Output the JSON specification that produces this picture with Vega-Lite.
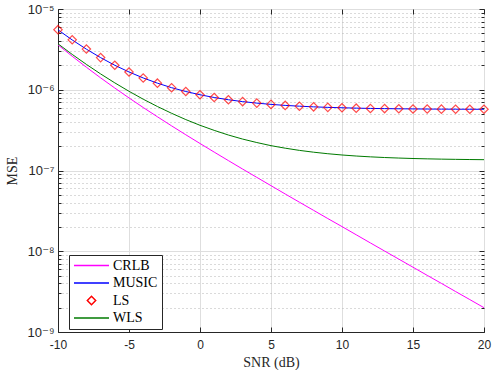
{
  "$schema": "https://vega.github.io/schema/vega-lite/v6.json",
  "width": 426,
  "height": 323,
  "autosize": {"type": "none"},
  "padding": {"left": 58, "top": 9, "right": 8, "bottom": 38},
  "background": "white",
  "config": {
    "view": {"stroke": "#262626", "strokeWidth": 1},
    "axis": {
      "domainColor": "#262626",
      "tickColor": "#262626",
      "labelColor": "#262626",
      "titleColor": "#262626",
      "labelFont": "Liberation Sans, DejaVu Sans",
      "labelFontSize": 12,
      "titleFont": "Liberation Serif, Times New Roman, serif",
      "titleFontSize": 14,
      "titleFontWeight": "normal"
    }
  },
  "datasets": {
    "curves": [
      {"snr": -10, "series": "CRLB", "mse": 3.6e-6}, {"snr": -9, "series": "CRLB", "mse": 2.6e-6}, {"snr": -8, "series": "CRLB", "mse": 1.9e-6}, {"snr": -7, "series": "CRLB", "mse": 1.404e-6}, {"snr": -6, "series": "CRLB", "mse": 1.05e-6}, {"snr": -5, "series": "CRLB", "mse": 7.92e-7}, {"snr": -4, "series": "CRLB", "mse": 6.03e-7}, {"snr": -3, "series": "CRLB", "mse": 4.63e-7}, {"snr": -2, "series": "CRLB", "mse": 3.57e-7}, {"snr": -1, "series": "CRLB", "mse": 2.77e-7}, {"snr": 0, "series": "CRLB", "mse": 2.16e-7}, {"snr": 1, "series": "CRLB", "mse": 1.69e-7}, {"snr": 2, "series": "CRLB", "mse": 1.326e-7}, {"snr": 3, "series": "CRLB", "mse": 1.042e-7}, {"snr": 4, "series": "CRLB", "mse": 8.22e-8}, {"snr": 5, "series": "CRLB", "mse": 6.49e-8}, {"snr": 6, "series": "CRLB", "mse": 5.12e-8}, {"snr": 7, "series": "CRLB", "mse": 4.05e-8}, {"snr": 8, "series": "CRLB", "mse": 3.21e-8}, {"snr": 9, "series": "CRLB", "mse": 2.54e-8}, {"snr": 10, "series": "CRLB", "mse": 2.02e-8}, {"snr": 11, "series": "CRLB", "mse": 1.6e-8}, {"snr": 12, "series": "CRLB", "mse": 1.268e-8}, {"snr": 13, "series": "CRLB", "mse": 1.006e-8}, {"snr": 14, "series": "CRLB", "mse": 7.99e-9}, {"snr": 15, "series": "CRLB", "mse": 6.34e-9}, {"snr": 16, "series": "CRLB", "mse": 5.03e-9}, {"snr": 17, "series": "CRLB", "mse": 4.0e-9}, {"snr": 18, "series": "CRLB", "mse": 3.17e-9}, {"snr": 19, "series": "CRLB", "mse": 2.52e-9}, {"snr": 20, "series": "CRLB", "mse": 2.0e-9},
      {"snr": -10, "series": "MUSIC", "mse": 5.52e-6}, {"snr": -9, "series": "MUSIC", "mse": 4.14e-6}, {"snr": -8, "series": "MUSIC", "mse": 3.18e-6}, {"snr": -7, "series": "MUSIC", "mse": 2.5e-6}, {"snr": -6, "series": "MUSIC", "mse": 2.01e-6}, {"snr": -5, "series": "MUSIC", "mse": 1.66e-6}, {"snr": -4, "series": "MUSIC", "mse": 1.4e-6}, {"snr": -3, "series": "MUSIC", "mse": 1.207e-6}, {"snr": -2, "series": "MUSIC", "mse": 1.061e-6}, {"snr": -1, "series": "MUSIC", "mse": 9.51e-7}, {"snr": 0, "series": "MUSIC", "mse": 8.67e-7}, {"snr": 1, "series": "MUSIC", "mse": 8.02e-7}, {"snr": 2, "series": "MUSIC", "mse": 7.52e-7}, {"snr": 3, "series": "MUSIC", "mse": 7.13e-7}, {"snr": 4, "series": "MUSIC", "mse": 6.83e-7}, {"snr": 5, "series": "MUSIC", "mse": 6.59e-7}, {"snr": 6, "series": "MUSIC", "mse": 6.4e-7}, {"snr": 7, "series": "MUSIC", "mse": 6.26e-7}, {"snr": 8, "series": "MUSIC", "mse": 6.14e-7}, {"snr": 9, "series": "MUSIC", "mse": 6.05e-7}, {"snr": 10, "series": "MUSIC", "mse": 5.98e-7}, {"snr": 11, "series": "MUSIC", "mse": 5.92e-7}, {"snr": 12, "series": "MUSIC", "mse": 5.87e-7}, {"snr": 13, "series": "MUSIC", "mse": 5.84e-7}, {"snr": 14, "series": "MUSIC", "mse": 5.81e-7}, {"snr": 15, "series": "MUSIC", "mse": 5.79e-7}, {"snr": 16, "series": "MUSIC", "mse": 5.77e-7}, {"snr": 17, "series": "MUSIC", "mse": 5.755e-7}, {"snr": 18, "series": "MUSIC", "mse": 5.744e-7}, {"snr": 19, "series": "MUSIC", "mse": 5.735e-7}, {"snr": 20, "series": "MUSIC", "mse": 5.73e-7},
      {"snr": -10, "series": "LS", "mse": 5.55e-6}, {"snr": -9, "series": "LS", "mse": 4.15e-6}, {"snr": -8, "series": "LS", "mse": 3.19e-6}, {"snr": -7, "series": "LS", "mse": 2.5e-6}, {"snr": -6, "series": "LS", "mse": 2.01e-6}, {"snr": -5, "series": "LS", "mse": 1.66e-6}, {"snr": -4, "series": "LS", "mse": 1.4e-6}, {"snr": -3, "series": "LS", "mse": 1.207e-6}, {"snr": -2, "series": "LS", "mse": 1.061e-6}, {"snr": -1, "series": "LS", "mse": 9.51e-7}, {"snr": 0, "series": "LS", "mse": 8.67e-7}, {"snr": 1, "series": "LS", "mse": 8.02e-7}, {"snr": 2, "series": "LS", "mse": 7.52e-7}, {"snr": 3, "series": "LS", "mse": 7.13e-7}, {"snr": 4, "series": "LS", "mse": 6.83e-7}, {"snr": 5, "series": "LS", "mse": 6.59e-7}, {"snr": 6, "series": "LS", "mse": 6.4e-7}, {"snr": 7, "series": "LS", "mse": 6.26e-7}, {"snr": 8, "series": "LS", "mse": 6.14e-7}, {"snr": 9, "series": "LS", "mse": 6.05e-7}, {"snr": 10, "series": "LS", "mse": 5.98e-7}, {"snr": 11, "series": "LS", "mse": 5.92e-7}, {"snr": 12, "series": "LS", "mse": 5.87e-7}, {"snr": 13, "series": "LS", "mse": 5.84e-7}, {"snr": 14, "series": "LS", "mse": 5.81e-7}, {"snr": 15, "series": "LS", "mse": 5.79e-7}, {"snr": 16, "series": "LS", "mse": 5.77e-7}, {"snr": 17, "series": "LS", "mse": 5.755e-7}, {"snr": 18, "series": "LS", "mse": 5.744e-7}, {"snr": 19, "series": "LS", "mse": 5.735e-7}, {"snr": 20, "series": "LS", "mse": 5.73e-7},
      {"snr": -10, "series": "WLS", "mse": 3.71e-6}, {"snr": -9, "series": "WLS", "mse": 2.74e-6}, {"snr": -8, "series": "WLS", "mse": 2.06e-6}, {"snr": -7, "series": "WLS", "mse": 1.571e-6}, {"snr": -6, "series": "WLS", "mse": 1.217e-6}, {"snr": -5, "series": "WLS", "mse": 9.57e-7}, {"snr": -4, "series": "WLS", "mse": 7.64e-7}, {"snr": -3, "series": "WLS", "mse": 6.2e-7}, {"snr": -2, "series": "WLS", "mse": 5.11e-7}, {"snr": -1, "series": "WLS", "mse": 4.27e-7}, {"snr": 0, "series": "WLS", "mse": 3.63e-7}, {"snr": 1, "series": "WLS", "mse": 3.14e-7}, {"snr": 2, "series": "WLS", "mse": 2.75e-7}, {"snr": 3, "series": "WLS", "mse": 2.45e-7}, {"snr": 4, "series": "WLS", "mse": 2.22e-7}, {"snr": 5, "series": "WLS", "mse": 2.03e-7}, {"snr": 6, "series": "WLS", "mse": 1.89e-7}, {"snr": 7, "series": "WLS", "mse": 1.775e-7}, {"snr": 8, "series": "WLS", "mse": 1.685e-7}, {"snr": 9, "series": "WLS", "mse": 1.613e-7}, {"snr": 10, "series": "WLS", "mse": 1.556e-7}, {"snr": 11, "series": "WLS", "mse": 1.511e-7}, {"snr": 12, "series": "WLS", "mse": 1.476e-7}, {"snr": 13, "series": "WLS", "mse": 1.448e-7}, {"snr": 14, "series": "WLS", "mse": 1.426e-7}, {"snr": 15, "series": "WLS", "mse": 1.408e-7}, {"snr": 16, "series": "WLS", "mse": 1.394e-7}, {"snr": 17, "series": "WLS", "mse": 1.383e-7}, {"snr": 18, "series": "WLS", "mse": 1.374e-7}, {"snr": 19, "series": "WLS", "mse": 1.367e-7}, {"snr": 20, "series": "WLS", "mse": 1.3615e-7}
    ]
  },
  "data": {"name": "curves"},
  "layer": [
    {
      "transform": [{"filter": "datum.series !== 'LS'"}],
      "mark": {"type": "line", "strokeWidth": 1},
      "encoding": {
        "x": {
          "field": "snr", "type": "quantitative",
          "scale": {"domain": [-10, 20], "nice": false, "zero": false},
          "axis": {
            "orient": "bottom", "title": "SNR (dB)",
            "values": [-10, -5, 0, 5, 10, 15, 20],
            "labelExpr": "'' + datum.value",
            "grid": true, "gridColor": "#dedede", "gridWidth": 1,
            "tickSize": -5, "labelPadding": 12, "titlePadding": 5,
            "labelFlush": false
          }
        },
        "y": {
          "field": "mse", "type": "quantitative",
          "scale": {"type": "log", "domain": [1e-9, 1e-5], "nice": false},
          "axis": {
            "orient": "left", "title": "MSE", "titlePadding": 8,
            "values": [1e-9, 2e-9, 3e-9, 4e-9, 5e-9, 6e-9, 7e-9, 8e-9, 9e-9, 1e-8, 2e-8, 3e-8, 4e-8, 5e-8, 6e-8, 7e-8, 8e-8, 9e-8, 1e-7, 2e-7, 3e-7, 4e-7, 5e-7, 6e-7, 7e-7, 8e-7, 9e-7, 1e-6, 2e-6, 3e-6, 4e-6, 5e-6, 6e-6, 7e-6, 8e-6, 9e-6, 1e-5],
            "labelExpr": "datum.value == 1e-5 ? '10⁻⁵' : datum.value == 1e-6 ? '10⁻⁶' : datum.value == 1e-7 ? '10⁻⁷' : datum.value == 1e-8 ? '10⁻⁸' : datum.value == 1e-9 ? '10⁻⁹' : ''",
            "labelPadding": 9,
            "labelFontSize": 13,
            "grid": true,
            "gridColor": {"condition": {"test": "datum.value == 1e-5 || datum.value == 1e-6 || datum.value == 1e-7 || datum.value == 1e-8 || datum.value == 1e-9", "value": "#dedede"}, "value": "#b4b4b4"},
            "gridDash": {"condition": {"test": "datum.value == 1e-5 || datum.value == 1e-6 || datum.value == 1e-7 || datum.value == 1e-8 || datum.value == 1e-9", "value": []}, "value": [1, 3]},
            "tickSize": {"condition": {"test": "datum.value == 1e-5 || datum.value == 1e-6 || datum.value == 1e-7 || datum.value == 1e-8 || datum.value == 1e-9", "value": -5}, "value": -3}
          }
        },
        "color": {
          "field": "series", "type": "nominal",
          "scale": {"domain": ["CRLB", "MUSIC", "LS", "WLS"], "range": ["#ff00ff", "#0000ff", "#ff0000", "#007a00"]},
          "legend": {
            "title": null, "orient": "none", "legendX": 11, "legendY": 246,
            "strokeColor": "#262626", "fillColor": "white", "padding": 4,
            "labelFont": "Liberation Serif, Times New Roman, serif", "labelFontSize": 14, "labelColor": "#000000",
            "symbolSize": 1225, "symbolStrokeWidth": 1.5, "labelOffset": 3, "rowPadding": 2.5, "clipHeight": 13,
            "encode": {"symbols": {"update": {"size": {"signal": "datum.value === 'LS' ? 70 : 1225"}}}}
          }
        }
      }
    },
    {
      "transform": [{"filter": "datum.series === 'LS'"}],
      "mark": {"type": "point", "filled": false, "strokeWidth": 1.2, "size": 70},
      "encoding": {
        "x": {"field": "snr", "type": "quantitative", "axis": null},
        "y": {"field": "mse", "type": "quantitative", "axis": null},
        "color": {"field": "series", "type": "nominal", "scale": {"domain": ["CRLB", "MUSIC", "LS", "WLS"], "range": ["#ff00ff", "#0000ff", "#ff0000", "#007a00"]}},
        "shape": {
          "field": "series", "type": "nominal",
          "scale": {"domain": ["CRLB", "MUSIC", "LS", "WLS"], "range": ["stroke", "stroke", "diamond", "stroke"]},
          "legend": {"title": null}
        }
      }
    },
    {
      "mark": {"type": "point", "opacity": 0},
      "encoding": {
        "x": {
          "field": "snr", "type": "quantitative",
          "axis": {"orient": "top", "title": null, "labels": false, "domain": false, "grid": false, "values": [-10, -5, 0, 5, 10, 15, 20], "tickSize": -5}
        },
        "y": {
          "field": "mse", "type": "quantitative",
          "axis": {
            "orient": "right", "title": null, "labels": false, "domain": false, "grid": false,
            "values": [1e-9, 2e-9, 3e-9, 4e-9, 5e-9, 6e-9, 7e-9, 8e-9, 9e-9, 1e-8, 2e-8, 3e-8, 4e-8, 5e-8, 6e-8, 7e-8, 8e-8, 9e-8, 1e-7, 2e-7, 3e-7, 4e-7, 5e-7, 6e-7, 7e-7, 8e-7, 9e-7, 1e-6, 2e-6, 3e-6, 4e-6, 5e-6, 6e-6, 7e-6, 8e-6, 9e-6, 1e-5],
            "tickSize": {"condition": {"test": "datum.value == 1e-5 || datum.value == 1e-6 || datum.value == 1e-7 || datum.value == 1e-8 || datum.value == 1e-9", "value": -5}, "value": -3}
          }
        }
      }
    }
  ],
  "resolve": {"axis": {"x": "independent", "y": "independent"}}
}
